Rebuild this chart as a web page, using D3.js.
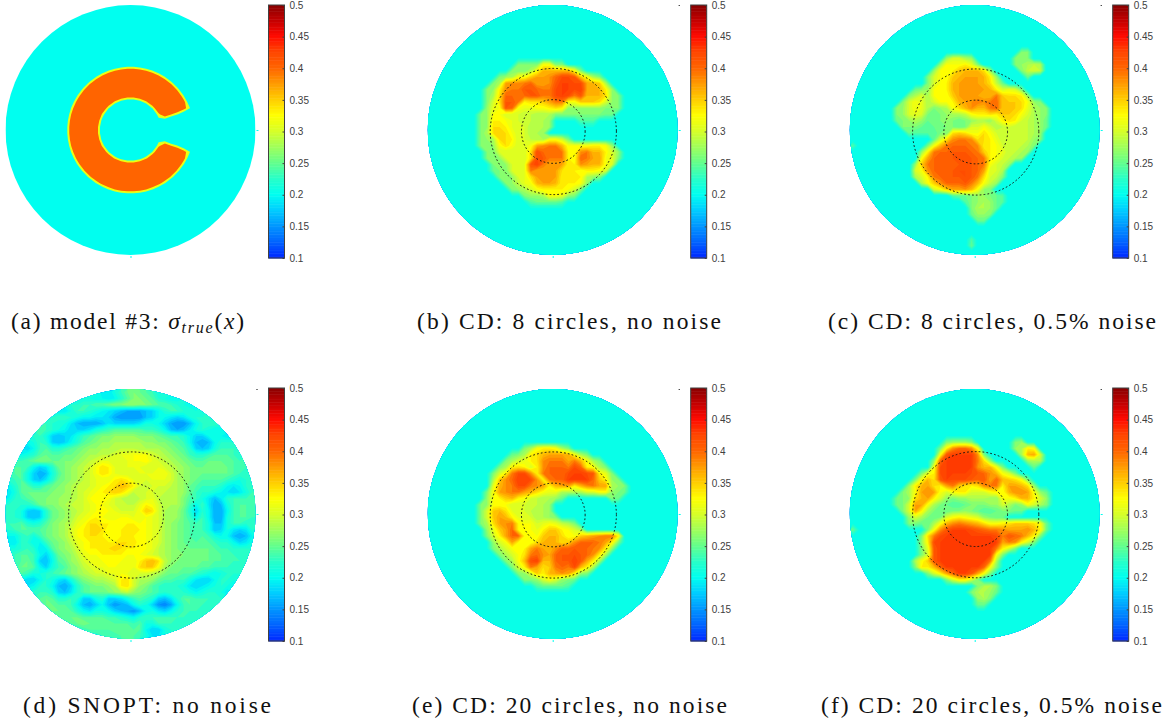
<!DOCTYPE html>
<html>
<head>
<meta charset="utf-8">
<script src="https://cdn.jsdelivr.net/npm/d3@7"></script>
<style>
  html, body { margin: 0; background: #fff; }
  .caption { font-family: "Liberation Serif", serif; font-size: 23.5px; fill: #111; }
  .bar text { font-family: "Liberation Sans", sans-serif; font-size: 10px; fill: #404040; }
  .bar path, .bar line { stroke: #404040; }
</style>
</head>
<body>
<div id="chart"></div>
<script>
/** DATA: sigma on a 40 x 40 grid, one letter per cell.
    letter = 0.10 + index in codes * 0.01, "." = the background of that panel */
const codes = "0123456789abcdefghijklmnopqrstuvwxyz";
const gridSize = 40;
const colorStops = [.1, .125, .15, .175, .2, .225, .25, .275, .3, .325, .35, .375, .4, .425, .45, .475, .5];
const colorValues = ["#0028ff", "#0064ff", "#0096ff", "#00cdff", "#00fff0", "#28ffc8", "#64ff8c", "#a0ff5a", "#d7ff28", "#ffff00", "#ffcd00", "#ff9b00", "#ff6400", "#ff4600", "#ff0a00", "#c30000", "#870000"];
const barTicks = [.1, .15, .2, .25, .3, .35, .4, .45, .5];
const backgrounds = [.2, .21, .2, .22, .21, .21];
const captions = ["(a) model #3: ", "(b) CD: 8 circles, no noise", "(c) CD: 8 circles, 0.5% noise", "(d) SNOPT: no noise", "(e) CD: 20 circles, no noise", "(f) CD: 20 circles, 0.5% noise"];
const ringRadii = [.25, .5];

const modelTrue = ["","","","","","","","","",
".................ceffec",
"...............fjmoppomjf",
".............djosuuuuuusojd",
"............elruuuuuuuuuurle",
"...........dlsuuuuuuuuuuuusld",
"...........jruuuuurppruuuuurj",
"..........fouuuurlhffhlruuuuof",
"..........jsuuurjd....djruusoj",
".........cmuuuuld......dlpmjfc",
".........eouuurh........hgc",
".........fpuuupf",
".........fpuuupf",
".........eouuurh........hgc",
".........cmuuuuld......dlpmjfc",
"..........jsuuurjd....djruusoj",
"..........fouuuurlhffhlruuuuof",
"...........jruuuuurppruuuuurj",
"...........dlsuuuuuuuuuuuusld",
"............elruuuuuuuuuurle",
".............djosuuuuuusojd",
"...............fjmoppomjf",
".................ceffec",
"","","","","","","","",""];

const cd8Clean = ["","","","","","","","","",
"..............ggggmmgg",
".............gggimqqqqqmg",
"...........ghimmprrsuwwvpmig",
"..........girssturrsvxxwwrqpi",
".........ghnsttvvuttwxxwxrqqnh",
".........giouutuvvttwxwtvqqqohg",
".........gkovvtnooprttmmpppokhg",
".........hlmvumllmmnonhhhhhhggg",
"........ghmmkkkjjiiiggggggggff",
"........ghnnmlkjjiih....eee",
"........ghoonlkkiiih",
"........giooomkkiih",
"........ghioonkkjiimmkg",
"........gghmomkkmrsttqmmmmnnmh",
".........ggkkkkkowutttnmstqqnkh",
".........gghkkkkowvtttnmutrrmlg",
"..........gghkklvxtrrrnnsrqqmk",
"..........fggkkltrrrronnmnnmk",
"...........gghklorrrrnnnnihg",
"............ghjlmqrrqnnnmh",
".............ghikmnnnnmkg",
"...............ghhimmlhg",
"................effffe",
"","","","","","","",""];

const cd8Noisy = ["","","","","","","",
"...........................gg",
"...............hkkih......ggg",
"..............hmmmnlg.....ghiji",
".............hmmnpqqqoh....gjkj",
"............gkmmpqrrrqnh....f",
"............gkmnqrrrrqojf",
"..........fghmmnqrrrrrqnklkg",
".........gikimmmprrrrqqtpoonh",
"........gkmlikmmnqrststupppomhg",
".......ghkmlighimoqsqqtupppolihg",
".......ghklkgfghiijmnnonppomkihg",
".......fghihffghgfghiihknonkjihf",
"........gggfeffggfgkkmkijkjjjihf",
".........feeeeggopommomkjjjjjih",
".............fkosttsoonljjjjjhg",
"e...........gmqtuuutsnnmkjjjig",
"...........hntuuvvvutpnmljjih",
"...........mruuuvvvvutnmkjih",
"..........hptuuuuvvvutmkjh",
"..........kmsuuuvwwvurkki",
"..........ikntuuvvwvtokjg",
"...........impsuuuvtqmjh",
".............kmprrsqmhg",
"................effghhgfe",
"..................eghihfe",
"...................giihf",
"...................fhhg",
"....................ff",
"","",
"...................e",
"...................f",
""];

const snoptClean = [
"ccccccccccccccc99bdfgfedbbcccccccccccccc",
"ccccccccccbbbbaa9aceggfecbaabbccccccccc",
"ccccccccbbccddeefgghhggfeedcbaabbccccccc",
"cccccccb99bddcba98766678acddccbbcccbbccc",
"ccccccbcddcbaa9986555578aa989bcccbbccccc",
"cccccddcbb976667988889bba86557acddcbcccc",
"ccccdddcba8889bcdeeeeeddca7679bcbaabcccc",
"cccccdb8789bdefgghhhhgggfeddca88aba9accc",
"ccbabdc878acefghhiiiiihhggfeda767acccbbb",
"cb98adeccdefghhiiijjjiiiihgfec878bdddccc",
"ccabcefeeffghiijjkllmmmkjihgfdccdeeedcdd",
"cddefggffgghijkllkklmmnlkjihgfeefffeeddd",
"deeda89cfghijkmonlklllkklkjihgffgggfeddd",
"deeb867beghijkmonlkkklllmmkihgffffffedcc",
"cdeb879cfghijklllnonlkklllkihgfeeeedcbcd",
"aceeccefghijjklmnoqpnkjkkkjihfedddca9acd",
"9beffffgghijklmnopomjjkkjjiihfdccba989bd",
"acdeffgghhijkmmmmkjiijkljiiigedb979cdddd",
"cdccdfgghijjklmmlkjjjlnmkiiigdad967bdeed",
"ccb878cfghijklmmmlkkkmpokihhfc8ca66adeed",
"ccb878cfghiklmnmllmmllmlkihhfdada66bdeed",
"ddecbceghijlmoonnnmnnmmlkihgfeddb77bddcc",
"cdeeeefghikmnopommnnnnmlkihgfeddb78b989c",
"aacdbdfghikmnoonmmnnnmmlkihgfededbaa767a",
"99ccaadfghjlmnnnnnooommlkihgfeeeedcca89b",
"bbcdc9aeghikmnnnoponnmmljihgfffffeddcccc",
"cdeeda8bfghjlmmnnnnmmmlkjihggffffeeddccc",
"cdefd87aefhikllmmmmllnpqojhgfffffeedddcc",
"cdffea8bdeghjkllmmllloppmigffffeedddcccc",
"cdedbbcdefghijkkllmlkkkjigffeedcbabccccc",
"bca88acb98beghiijknokiihfeeddb988accbbcc",
"cdb9acca768cefgghinokhgedcccb989abcbabcc",
"ccdccddc879cefffghijhgfedcddcbabccb9bccc",
"cddddefeccdc88bc889bdedc879ceeddddcccccc",
"ccccdeffeeda768a7567acb8546adeddcccccccc",
"cccccdeffeeca9bba87657ab98acdddccccccccc",
"cccccccdefffeeeeddcbacdddddddccccccccccc",
"cccccccccdefgffffeeedebbdddccccccccccccc",
"ccccccccccccdeeeefffeea88bcccccccccccccc",
"cccccccccccccccdddeeedb99bcccccccccccccc"];

const cd20Clean = ["","","","","","","","","",
"...............gimnnmig",
".............fginoqrrrqmig",
"............giklnostttrtqmig",
"...........ginonknsuuutwunmig",
"..........gkntwwsntuuuwxxwvnlg",
"..........ipsuxxwsntuuxxxxupnhg",
"..........lqstwwtsrnqrrnqstrrihg",
".........gmrsttrqomlliiiikkmmhgf",
".........hmnpqnmkjiihf.......gf",
"........ghmmmkkkjjih",
"........gkpqolkkjiih",
"........gkprqnlkkiihg",
"........giorstnmmklmljig",
".........hlprunmmlnppnmki",
".........gknruunmmpqqommpqrsttn",
"..........hkmrnmmoqqqopsuuutrng",
"..........gikmmnrtrqsuuvuutsnh",
"...........gikmotusruvvwvusni",
"............gimqwxqquvvxvrni",
".............gkntroptutwqni",
"..............ghkpnqrsrnhg",
"...............gghkmkhgf",
".................effffe",
"","","","","","","",""];

const cd20Noisy = ["","","","","","","","",
"...............ghhhg......gh",
"..............gnsuusm.....hinm",
"..............mvxxxxsg.....iqrk",
".............huxxxxxtoh.....hii",
".............mwxxxxxsqqmg....f",
"...........glnwxxxxwvusqmkg",
"..........gmqovxwwwvuvruqpomg",
".........hnqronrtponosttnrrqoh",
"........gimrsrmkmnnkkkmnmqssrmhf",
".......fghoqrnkhghhiiihhmmnqqnkh",
".......fgkrrmigfeefggghhkighmkig",
"........gkrnigffgghgfeefggff",
".........hkigfgkmnmlkhgff",
".........ggffimqstsrqommnopppomf",
"f...........gmsvxxxwvuttsrrrsqnf",
"...........gotwxxxxxxxxwtvutqng",
"...........hnwxxxxxxxxxxrtsnkg",
"...........glvxxxxxxxxxtnkg",
"...........gkvxxxxxxxxxmg",
"..........impvxxxxxxxxti",
"..........gnnquxxxxxxumg",
"............gknruxxvrmg",
"...............gknnkg",
"....................giig",
"...................giihf",
"....................hig",
"....................ff",
"","","","",""];

const grids = [modelTrue, cd8Clean, cd8Noisy, snoptClean, cd20Clean, cd20Noisy];

/** CONSTANTS */
const width = 1173;
const height = 726;
const radius = 125;
const columns = [130.5, 552.7, 974.7];
const rows = [130, 514];
const barOffset = 138;
const barWidth = 16;
const barTop = [5, 388];
const barHeight = 253;

const color = d3.scaleLinear()
  .domain(colorStops)
  .range(colorValues)
  .interpolate(d3.interpolateRgb);

const svg = d3.select("#chart")
  .append("svg")
  .attr("width", width)
  .attr("height", height)
  .style("display", "block");

const defs = svg.append("defs");
const fineLevels = d3.range(.1, .5, .01);
// panel (a) has a hard edge, only a thin yellow band between the two values
const sharpLevels = [.288, .3, .31, .32];
// ring centres are a little off the disc centres in the figure
const ringShift = [null, [.6, 1.5], [1, 2], [1.2, 1], [.6, 1], [1, .7]];

grids.forEach((grid, i) => {
  const cx = columns[i % 3];
  const cy = rows[Math.floor(i / 3)];
  const bg = backgrounds[i];

  const values = [];
  for (let r = 0; r < gridSize; r++) {
    const row = (grid[r] || "").padEnd(gridSize, ".");
    for (let c = 0; c < gridSize; c++) {
      const ch = row[c];
      values.push(ch === "." ? bg : .1 + codes.indexOf(ch) * .01);
    }
  }

  const xScale = d3.scaleLinear().domain([0, gridSize]).range([cx - radius, cx + radius]);
  const yScale = d3.scaleLinear().domain([0, gridSize]).range([cy - radius, cy + radius]);

  const project = d3.geoTransform({
    point(x, y) { this.stream.point(xScale(x), yScale(y)); }
  });
  const path = d3.geoPath(project);

  defs.append("clipPath")
    .attr("id", "disc" + i)
    .append("circle")
    .attr("cx", cx)
    .attr("cy", cy)
    .attr("r", radius);

  const panel = svg.append("g").attr("clip-path", `url(#disc${i})`);

  panel.append("rect")
    .attr("x", cx - radius)
    .attr("y", cy - radius)
    .attr("width", radius * 2)
    .attr("height", radius * 2)
    .attr("fill", color(i === 3 ? .2 : bg));

  const levels = i === 0 ? sharpLevels : fineLevels;
  const top = d3.max(values);
  const contours = d3.contours()
    .size([gridSize, gridSize])
    .thresholds(levels)(values);

  panel.selectAll("path")
    .data(contours)
    .join("path")
    .attr("d", path)
    .attr("fill", (d, k) => i === 0
      ? color(k + 1 < levels.length ? levels[k + 1] : top)
      : color(Math.min(levels[k] + .005, top)));

  // little leftovers of the hidden axes
  svg.append("rect").attr("x", cx + radius + 1).attr("y", cy).attr("width", 2).attr("height", 1).attr("fill", color(.2));
  svg.append("rect").attr("x", cx).attr("y", cy + radius + 1).attr("width", 1).attr("height", 2).attr("fill", color(.2));
  if (i !== 0) {
    svg.append("rect").attr("x", cx + radius + 1).attr("y", cy - radius).attr("width", 1).attr("height", 1).attr("fill", "#000");
  }

  // dotted rings
  if (i !== 0) {
    svg.selectAll(null)
      .data(ringRadii)
      .join("circle")
      .attr("cx", cx + ringShift[i][0])
      .attr("cy", cy + ringShift[i][1])
      .attr("r", d => d * radius + .6)
      .attr("fill", "none")
      .attr("stroke", "#111")
      .attr("stroke-width", 1)
      .attr("stroke-linecap", "round")
      .attr("stroke-dasharray", "0.9 3");
  }

  // colorbar
  const bx = cx + barOffset;
  const by = barTop[Math.floor(i / 3)];
  const barScale = d3.scaleLinear().domain([.1, .5]).range([by + barHeight, by]);
  const bar = svg.append("g").attr("class", "bar");
  const barLevels = d3.range(.1, .5, .0025);

  bar.selectAll("rect")
    .data(barLevels)
    .join("rect")
    .attr("x", bx)
    .attr("y", d => barScale(d + .0025))
    .attr("width", barWidth)
    .attr("height", d => barScale(d) - barScale(d + .0025) + .5)
    .attr("fill", d => color(d));

  bar.append("rect")
    .attr("x", bx)
    .attr("y", by)
    .attr("width", barWidth)
    .attr("height", barHeight)
    .attr("fill", "none")
    .attr("stroke", "#404040");

  bar.append("g")
    .attr("transform", `translate(${bx + barWidth},0)`)
    .call(d3.axisRight(barScale).tickValues(barTicks).tickSize(-2).tickPadding(5).tickFormat(d => d))
    .call(g => g.select(".domain").remove());

  // caption
  const captionBox = [[11, 233], [417, 304], [828, 328], [23, 248], [412, 315], [821, 341]][i];
  const caption = svg.append("text")
    .attr("class", "caption")
    .attr("x", captionBox[0])
    .attr("y", i < 3 ? 329 : 713)
    .attr("textLength", captionBox[1])
    .text(captions[i]);
  if (i === 0) {
    caption.append("tspan").attr("font-style", "italic").text("σ");
    caption.append("tspan").attr("font-style", "italic").attr("font-size", 16).attr("dy", 4).text("true");
    caption.append("tspan").attr("dy", -4).text("(");
    caption.append("tspan").attr("font-style", "italic").text("x");
    caption.append("tspan").text(")");
  }
});
</script>
</body>
</html>
